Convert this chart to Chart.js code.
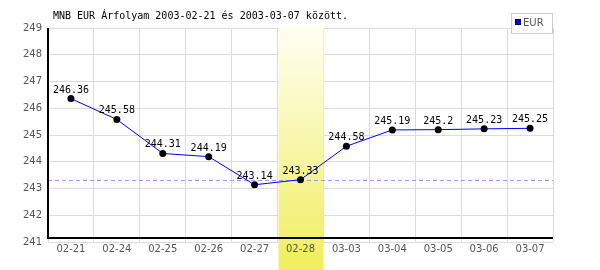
<!DOCTYPE html>
<html>
<head>
<meta charset="utf-8">
<script src="https://cdn.jsdelivr.net/npm/chart.js@4/dist/chart.umd.min.js"></script>
<style>
  html, body { margin: 0; padding: 0; background: #fff; }
  #wrap { width: 600px; height: 270px; }
</style>
</head>
<body>
<div id="wrap"><canvas id="myChart" width="600" height="270"></canvas></div>
<script>
let dates = ["02-21", "02-24", "02-25", "02-26", "02-27", "02-28", "03-03", "03-04", "03-05", "03-06", "03-07"];
let rates = [246.36, 245.58, 244.31, 244.19, 243.14, 243.33, 244.58, 245.19, 245.2, 245.23, 245.25];
let rateLabels = ["246.36", "245.58", "244.31", "244.19", "243.14", "243.33", "244.58", "245.19", "245.2", "245.23", "245.25"];
let highlightIndex = 5;
let refLine = 243.33;
let titleText = "MNB EUR Árfolyam 2003-02-21 és 2003-03-07 között.";
let seriesName = "EUR";

const mono = "10px 'DejaVu Sans Mono'";
const sans = "10px 'DejaVu Sans'";

const decor = {
  id: "decor",
  beforeDatasetsDraw(chart) {
    const ctx = chart.ctx;
    const area = chart.chartArea;
    const xs = chart.scales.x;
    const ys = chart.scales.y;
    const w = xs.getPixelForValue(1) - xs.getPixelForValue(0);
    const cx = xs.getPixelForValue(highlightIndex);
    ctx.save();
    // highlighted day column
    const g = ctx.createLinearGradient(0, area.top, 0, chart.height);
    g.addColorStop(0, "#fffff2");
    g.addColorStop(1, "#f0ee5c");
    ctx.fillStyle = g;
    ctx.fillRect(Math.round(cx - w / 2) + 0.5, area.top - 1, Math.round(w) - 1, chart.height - area.top + 1);
    ctx.font = sans;
    ctx.fillStyle = "#555";
    ctx.textAlign = "center";
    ctx.textBaseline = "middle";
    ctx.fillText(dates[highlightIndex], cx, 249);
    // reference line at the highlighted day's rate
    const ry = Math.round(ys.getPixelForValue(refLine)) + 0.5;
    ctx.strokeStyle = "#9a9aee";
    ctx.lineWidth = 1;
    ctx.setLineDash([4, 3]);
    ctx.beginPath();
    ctx.moveTo(area.left, ry);
    ctx.lineTo(area.right, ry);
    ctx.stroke();
    ctx.setLineDash([]);
    // black axes
    ctx.strokeStyle = "#000";
    ctx.lineWidth = 2;
    ctx.beginPath();
    ctx.moveTo(area.left, area.top);
    ctx.lineTo(area.left, area.bottom - 4);
    ctx.lineTo(area.right, area.bottom - 4);
    ctx.stroke();
    ctx.restore();
  },
  afterDatasetsDraw(chart) {
    const ctx = chart.ctx;
    const meta = chart.getDatasetMeta(0);
    ctx.save();
    ctx.font = mono;
    ctx.fillStyle = "#000";
    ctx.textAlign = "center";
    ctx.textBaseline = "alphabetic";
    meta.data.forEach(function (pt, i) {
      ctx.fillText(rateLabels[i], pt.x, pt.y - 6);
    });
    ctx.restore();
  },
  afterDraw(chart) {
    const ctx = chart.ctx;
    ctx.save();
    ctx.font = mono;
    ctx.fillStyle = "#000";
    ctx.textBaseline = "middle";
    ctx.textAlign = "left";
    ctx.fillText(titleText, 53, 16);
    // legend box
    ctx.fillStyle = "#fff";
    ctx.fillRect(511, 13, 41, 20);
    ctx.strokeStyle = "#ccc";
    ctx.lineWidth = 1;
    ctx.strokeRect(511.5, 13.5, 41, 20);
    ctx.fillStyle = "#0000ff";
    ctx.fillRect(515, 19, 6, 6);
    ctx.strokeStyle = "#000040";
    ctx.strokeRect(515.5, 19.5, 5, 5);
    ctx.font = sans;
    ctx.fillStyle = "#555";
    ctx.fillText(seriesName, 523, 23);
    ctx.restore();
  }
};

const data = {
  labels: dates,
  datasets: [
    {
      label: seriesName,
      data: rates,
      borderColor: "#0000ff",
      borderWidth: 1,
      backgroundColor: "#000",
      pointBackgroundColor: "#000",
      pointBorderColor: "#000",
      pointRadius: 3.5,
      pointBorderWidth: 0,
      tension: 0,
    },
  ],
};

const config = {
  type: "line",
  data: data,
  options: {
    responsive: false,
    animation: { duration: 0 },
    layout: { padding: { top: 28, right: 47, left: 0, bottom: 0 } },
    plugins: {
      legend: { display: false },
      title: { display: false },
      tooltip: { enabled: false },
    },
    scales: {
      x: {
        offset: true,
        grid: { offset: true, color: "#dcdcdc", drawTicks: false },
        border: { display: false },
        ticks: { font: { family: "DejaVu Sans", size: 10 }, color: "#555", padding: 1, maxRotation: 0, autoSkip: false },
        afterFit(scale) { scale.height = 28; },
      },
      y: {
        min: 241,
        max: 249,
        grid: { color: "#dcdcdc", drawTicks: false },
        border: { display: false },
        ticks: { stepSize: 1, font: { family: "DejaVu Sans", size: 10 }, color: "#555", padding: 6 },
        afterFit(scale) { scale.width = 48; },
      },
    },
  },
  plugins: [decor],
};

let myChart = new Chart(document.getElementById("myChart"), config);
</script>
</body>
</html>
